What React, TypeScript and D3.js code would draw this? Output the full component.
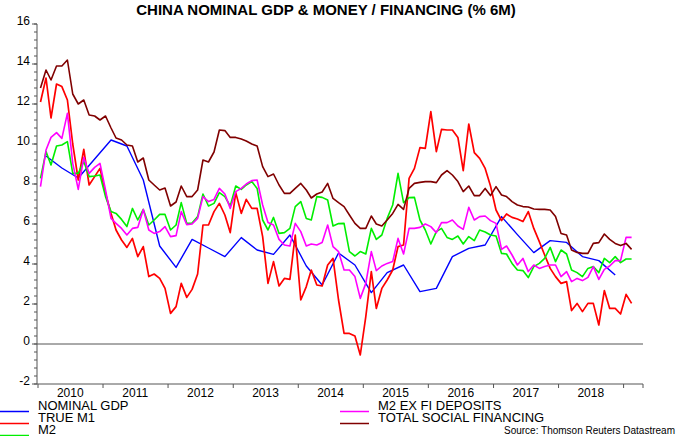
import React from 'react';
import * as d3 from 'd3';

// monthly series, Jan 2010 - Feb 2019 (% 6m annualised)
const trueM1 = [
  12.1, 13.3, 11.3, 13.0, 12.87, 12.2, 10.0, 8.2, 9.73, 7.95, 8.37, 8.78,
  7.53, 6.53, 5.7, 5.2, 4.83, 5.28, 4.37, 4.87, 3.37, 3.5, 3.28, 2.78,
  1.53, 1.87, 3.03, 2.33, 2.73, 3.5, 5.95, 5.95, 6.62, 7.03, 6.45, 5.57,
  7.57, 6.53, 7.23, 6.78, 6.78, 5.37, 3.03, 4.12, 2.9, 3.28, 3.23, 5.45,
  2.2, 2.87, 3.7, 2.95, 2.9, 3.95, 4.28, 2.2, 0.53, 0.53, 0.4, -0.55,
  1.37, 3.62, 1.78, 2.78, 3.2, 3.7, 4.87, 4.95, 8.28, 8.78, 9.82, 9.78,
  11.62, 9.62, 10.73, 10.7, 10.7, 10.33, 8.67, 11.0, 9.57, 9.28, 8.78, 7.9,
  6.7, 6.17, 6.5, 6.33, 6.25, 6.12, 6.62, 5.78, 5.12, 4.45, 3.78, 3.37,
  3.03, 3.12, 1.67, 2.03, 1.62, 2.03, 2.03, 0.95, 2.67, 1.78, 1.78, 1.5,
  2.48, 2.03,
];
const m2 = [
  8.28, 9.62, 8.95, 9.9, 9.95, 10.12, 8.53, 8.53, 9.12, 8.37, 8.4, 8.45,
  7.37, 6.62, 6.53, 6.23, 5.87, 6.78, 6.2, 6.73, 5.95, 6.2, 6.48, 6.48,
  5.7, 5.95, 7.07, 6.03, 6.05, 6.37, 7.5, 6.9, 7.03, 7.57, 7.37, 6.9,
  7.9, 7.73, 7.95, 8.12, 7.78, 6.2, 5.7, 6.33, 5.53, 5.57, 5.78, 6.87,
  7.12, 6.28, 6.2, 7.37, 7.33, 7.2, 5.9, 6.02, 6.03, 4.62, 4.4, 4.62,
  4.5, 5.78, 5.23, 5.45, 6.28, 6.95, 8.53, 7.07, 7.32, 7.33, 6.2, 5.7,
  5.0, 5.62, 5.78, 5.33, 5.23, 5.4, 5.0, 5.37, 5.17, 5.7, 5.6, 5.45,
  5.4, 4.53, 4.5, 4.03, 3.7, 3.67, 3.32, 3.87, 4.03, 4.28, 4.83, 4.12,
  4.7, 4.5, 3.7, 3.57, 3.37, 3.78, 3.87, 3.57, 4.28, 4.07, 4.37, 4.07,
  4.25, 4.25,
];
const m2ExFi = [
  7.87, 9.7, 10.33, 10.57, 10.28, 11.53, 9.03, 7.73, 9.33, 8.53, 8.83, 9.03,
  7.7, 6.28, 6.03, 5.78, 5.45, 5.78, 5.83, 6.73, 5.7, 5.53, 5.62, 5.87,
  5.37, 5.42, 6.62, 5.97, 6.0, 6.28, 7.37, 7.12, 7.23, 7.78, 7.5, 6.78,
  7.62, 7.78, 8.0, 8.17, 8.2, 6.95, 6.07, 5.95, 5.23, 4.95, 4.9, 6.03,
  5.62, 4.9, 5.0, 4.95, 5.07, 5.95, 4.87, 4.62, 3.7, 3.7, 3.37, 2.28,
  3.03, 4.62, 3.67, 3.9, 4.03, 4.12, 5.28, 4.5, 5.78, 5.78, 5.83, 6.0,
  5.87, 5.57, 6.07, 6.07, 6.2, 5.9, 5.73, 6.83, 6.2, 6.37, 6.4, 6.17,
  6.03, 4.73, 4.9, 4.45, 3.95, 4.28, 3.62, 3.95, 3.78, 3.87, 3.95, 3.95,
  3.37, 3.62, 3.12, 3.28, 3.17, 3.33, 3.87, 3.23, 3.73, 3.9, 4.17, 4.17,
  5.33, 5.33,
];
const totalSocialFinancing = [
  12.8, 13.7, 13.2, 13.9, 13.9, 14.2, 12.5, 12.0, 12.2, 11.45, 11.4, 11.2,
  11.4, 10.8, 10.3, 10.2, 9.95, 9.9, 9.1, 9.3, 8.2, 7.95, 7.7, 7.8,
  6.9, 7.1, 7.9, 7.37, 7.37, 7.7, 9.2, 9.1, 9.6, 10.7, 10.67, 10.33,
  10.33, 10.25, 10.15, 10.0, 9.9, 8.87, 8.37, 8.5, 7.95, 7.53, 7.53, 7.78,
  8.03, 7.7, 7.3, 7.5, 7.6, 8.03, 7.28, 7.07, 6.87, 6.45, 6.03, 5.78,
  5.78, 6.4, 6.0, 5.9, 6.2, 6.53, 6.98, 6.73, 7.78, 8.03, 8.08, 8.12,
  8.12, 8.07, 8.45, 8.67, 8.45, 8.12, 7.62, 7.9, 7.42, 7.42, 7.78, 7.42,
  7.87, 7.45, 7.37, 7.12, 6.95, 6.87, 6.85, 6.75, 6.73, 6.73, 6.7, 6.37,
  5.53, 5.45, 4.7, 4.58, 4.53, 4.53, 5.03, 5.07, 5.5, 5.23, 5.03, 4.92,
  5.03, 4.73,
];
// quarterly, Q1 2010 - Q4 2018
const nominalGdp = [
  9.4, 8.8, 8.3, 9.25, 10.2, 9.9, 8.2, 4.9, 3.83, 5.23, 4.8, 4.37,
  5.32, 4.7, 4.48, 5.45, 3.9, 2.95, 4.55, 3.95, 2.57, 3.57, 3.95, 2.62,
  2.78, 4.37, 4.78, 4.95, 6.37, 5.47, 4.57, 5.17, 5.08, 4.37, 4.17, 3.45,
];

const years = [2010, 2011, 2012, 2013, 2014, 2015, 2016, 2017, 2018];
const yTicks = [-2, 0, 2, 4, 6, 8, 10, 12, 14, 16];

const FONT = 'Liberation Sans, Arial, sans-serif';

export default function App() {
  const x = d3.scaleTime()
    .domain([new Date(2010, 0, 1), new Date(2019, 3, 20)])
    .range([38, 643]);
  const y = d3.scaleLinear().domain([-2, 16]).range([384, 24]);

  const monthly = (vals: number[]) =>
    vals.map((v, i) => ({ d: new Date(2010, i, 15), v }));
  const quarterly = nominalGdp.map((v, k) => ({ d: new Date(2010, 3 * k + 1, 15), v }));

  const line = d3.line<{ d: Date; v: number }>()
    .x(p => x(p.d))
    .y(p => y(p.v));

  const series = [
    { name: 'NOMINAL GDP', color: '#0000ff', data: quarterly, w: 1.4 },
    { name: 'TRUE M1', color: '#ff0000', data: monthly(trueM1), w: 1.7 },
    { name: 'M2', color: '#00ee00', data: monthly(m2), w: 1.6 },
    { name: 'M2 EX FI DEPOSITS', color: '#ff00ff', data: monthly(m2ExFi), w: 1.6 },
    { name: 'TOTAL SOCIAL FINANCING', color: '#800000', data: monthly(totalSocialFinancing), w: 1.6 },
  ];

  const minor = d3.range(0, 46).map(k => -2 + k * 0.4);
  const x0 = 37;
  const xEnd = x.range()[1];

  return (
    <svg width={680} height={436} style={{ position: 'absolute', left: 0, top: 0 }}
      fontFamily={FONT}>
      <rect width={680} height={436} fill="#fff" />
      <text x={326} y={15} textAnchor="middle" fontSize={15} fontWeight="bold">
        CHINA NOMINAL GDP &amp; MONEY / FINANCING (% 6M)
      </text>

      {/* y axis */}
      <line x1={x0} x2={x0} y1={y(16)} y2={y(-2)} stroke="#555" />
      {minor.map((v, i) => (
        <line key={'m' + i} x1={x0 - 3} x2={x0} y1={y(v)} y2={y(v)} stroke="#555" />
      ))}
      {yTicks.map(v => (
        <g key={v}>
          <line x1={x0 - 5} x2={x0} y1={y(v)} y2={y(v)} stroke="#555" />
          <text x={30} y={y(v) + 0.5} textAnchor="end" fontSize={12}>{v}</text>
        </g>
      ))}

      {/* x axis */}
      <line x1={x0} x2={xEnd} y1={y(-2)} y2={y(-2)} stroke="#555" />
      {[...years, 2019].map(yr => (
        <line key={yr} x1={x(new Date(yr, 0, 1))} x2={x(new Date(yr, 0, 1))}
          y1={y(-2)} y2={y(-2) + 4} stroke="#555" />
      ))}
      <line x1={xEnd} x2={xEnd} y1={y(-2)} y2={y(-2) + 4} stroke="#555" />
      {years.map(yr => (
        <text key={yr} x={x(new Date(yr, 6, 1))} y={397} textAnchor="middle" fontSize={12}>{yr}</text>
      ))}

      {/* zero line */}
      <line x1={x0} x2={xEnd} y1={y(0)} y2={y(0)} stroke="#555" />

      {series.map(s => (
        <path key={s.name} d={line(s.data) || ''} fill="none" stroke={s.color}
          strokeWidth={s.w} strokeLinejoin="round" />
      ))}

      {/* legend */}
      {series.map((s, i) => {
        const col = i < 3 ? 0 : 1;
        const row = i < 3 ? i : i - 3;
        const lx = col === 0 ? 0 : 340;
        const by = 410 + row * 12;
        return (
          <g key={'lg' + s.name}>
            <path d={`M${lx},${by + 1.5}H${lx + 29}`} stroke={s.color} strokeWidth={1.5} fill="none" />
            <text x={lx + 38} y={by} fontSize={13}>{s.name}</text>
          </g>
        );
      })}
      <text x={675} y={434} textAnchor="end" fontSize={10}>Source: Thomson Reuters Datastream</text>
    </svg>
  );
}
